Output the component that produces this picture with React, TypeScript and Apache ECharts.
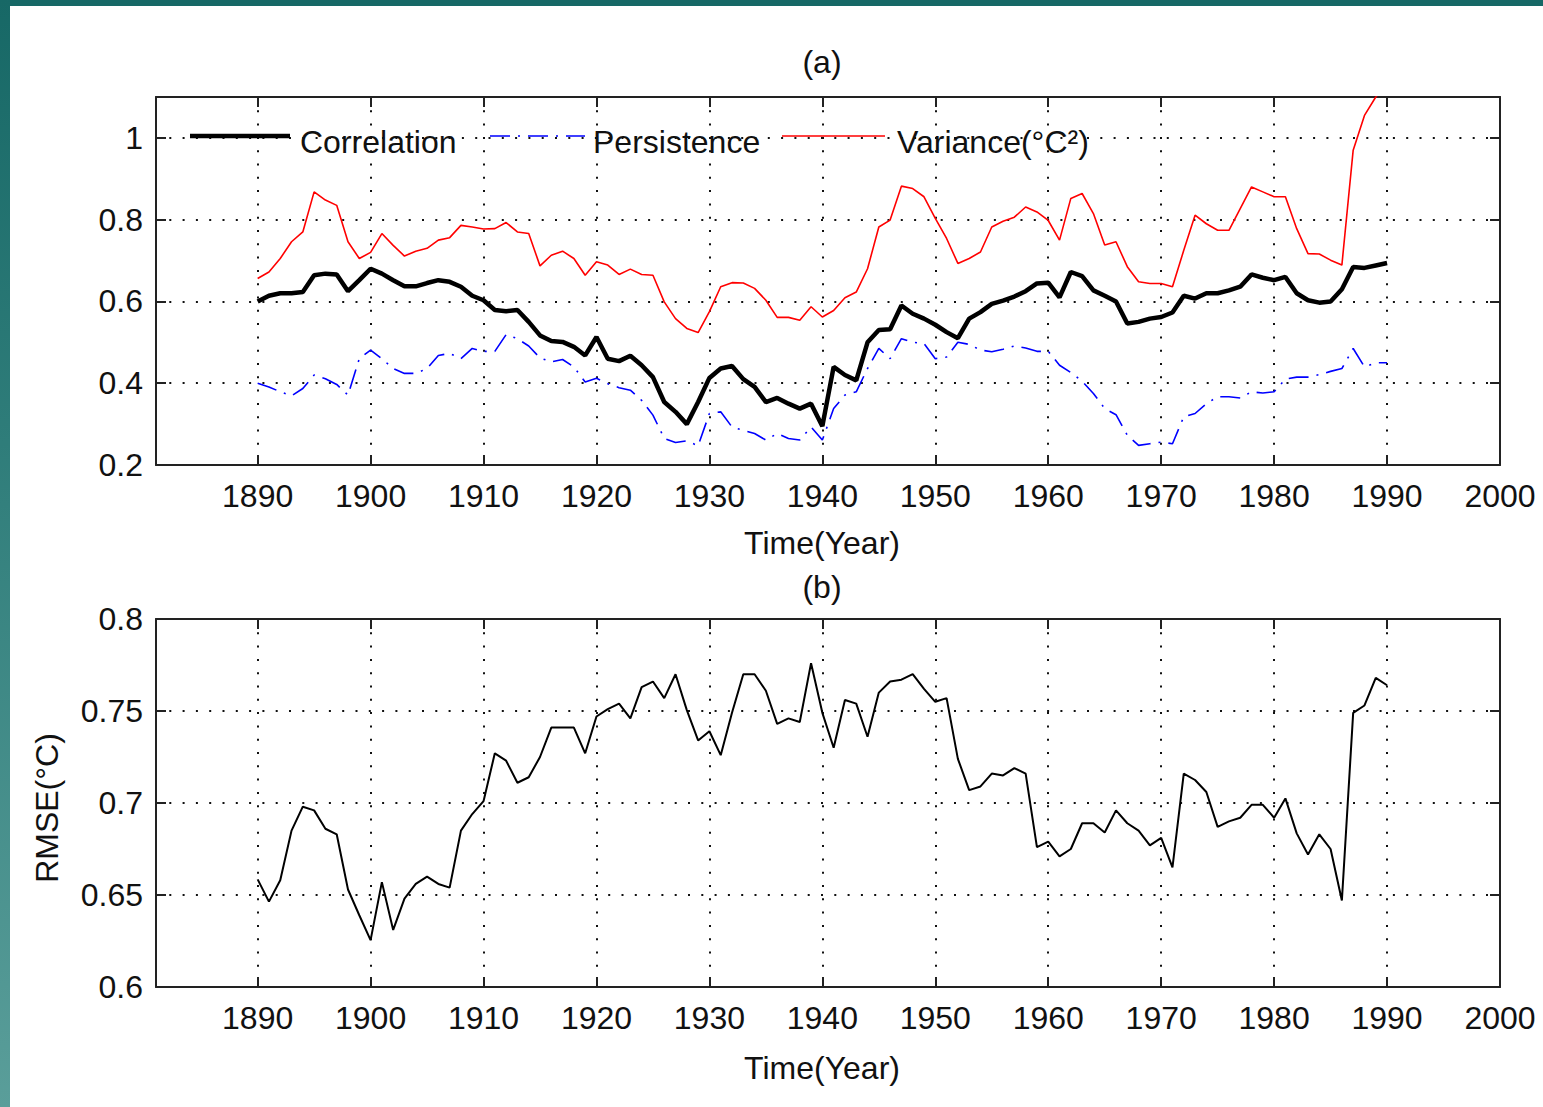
import React, { useEffect, useRef } from "react";
import * as echarts from "echarts";

const years: number[] = [];
for (let y = 1890; y <= 1990; y++) years.push(y);

const correlation = [
  0.600, 0.614, 0.620, 0.620, 0.623, 0.664, 0.668, 0.666, 0.625, 0.652,
  0.680, 0.668, 0.652, 0.637, 0.637, 0.645, 0.652, 0.648, 0.636, 0.614,
  0.603, 0.579, 0.576, 0.579, 0.550, 0.517, 0.503, 0.501, 0.489, 0.468,
  0.513, 0.460, 0.454, 0.467, 0.444, 0.415, 0.354, 0.330, 0.300, 0.354,
  0.413, 0.436, 0.442, 0.410, 0.391, 0.354, 0.364, 0.350, 0.338, 0.350,
  0.295, 0.440, 0.420, 0.407, 0.500, 0.530, 0.532, 0.590, 0.570, 0.558,
  0.543, 0.525, 0.510, 0.558, 0.574, 0.594, 0.602, 0.612, 0.625, 0.644,
  0.646, 0.610, 0.672, 0.662, 0.627, 0.614, 0.600, 0.546, 0.550, 0.558,
  0.562, 0.573, 0.614, 0.607, 0.620, 0.620, 0.627, 0.636, 0.666, 0.658,
  0.652, 0.660, 0.620, 0.603, 0.597, 0.600, 0.630, 0.684, 0.682, 0.688,
  0.694,
];

const persistence = [
  0.400, 0.391, 0.379, 0.369, 0.387, 0.420, 0.411, 0.397, 0.371, 0.460,
  0.481, 0.460, 0.436, 0.424, 0.424, 0.436, 0.468, 0.473, 0.460, 0.485,
  0.478, 0.478, 0.519, 0.509, 0.491, 0.462, 0.452, 0.458, 0.440, 0.403,
  0.412, 0.399, 0.389, 0.383, 0.358, 0.322, 0.265, 0.255, 0.259, 0.247,
  0.326, 0.330, 0.293, 0.285, 0.277, 0.261, 0.277, 0.265, 0.261, 0.293,
  0.261, 0.338, 0.371, 0.379, 0.436, 0.485, 0.460, 0.509, 0.500, 0.497,
  0.460, 0.464, 0.500, 0.495, 0.481, 0.477, 0.483, 0.491, 0.486, 0.478,
  0.478, 0.444, 0.426, 0.405, 0.375, 0.338, 0.323, 0.273, 0.248, 0.252,
  0.256, 0.252, 0.318, 0.326, 0.350, 0.367, 0.367, 0.364, 0.379, 0.376,
  0.379, 0.410, 0.415, 0.415, 0.421, 0.429, 0.436, 0.485, 0.440, 0.450,
  0.450,
];

const variance = [
  0.656, 0.672, 0.705, 0.746, 0.770, 0.868, 0.848, 0.835, 0.746, 0.705,
  0.720, 0.766, 0.737, 0.711, 0.723, 0.730, 0.750, 0.756, 0.786, 0.782,
  0.777, 0.778, 0.793, 0.770, 0.766, 0.687, 0.713, 0.723, 0.705, 0.664,
  0.697, 0.689, 0.666, 0.679, 0.666, 0.664, 0.599, 0.558, 0.534, 0.524,
  0.575, 0.636, 0.646, 0.645, 0.632, 0.603, 0.561, 0.561, 0.554, 0.587,
  0.562, 0.578, 0.609, 0.623, 0.680, 0.782, 0.799, 0.882, 0.876, 0.856,
  0.803, 0.754, 0.693, 0.705, 0.721, 0.782, 0.796, 0.806, 0.831, 0.819,
  0.798, 0.750, 0.852, 0.864, 0.815, 0.738, 0.746, 0.685, 0.648, 0.644,
  0.644, 0.636, 0.725, 0.811, 0.790, 0.774, 0.774, 0.827, 0.880, 0.868,
  0.856, 0.856, 0.778, 0.717, 0.716, 0.701, 0.689, 0.970, 1.055, 1.100,
  1.130,
];

const rmse = [
  0.6585, 0.6464, 0.658, 0.685, 0.698, 0.696, 0.686, 0.683, 0.653, 0.639,
  0.6255, 0.657, 0.631, 0.648, 0.656, 0.660, 0.656, 0.654, 0.685, 0.694,
  0.701, 0.727, 0.723, 0.711, 0.714, 0.725, 0.741, 0.741, 0.741, 0.727,
  0.747, 0.751, 0.754, 0.746, 0.763, 0.766, 0.757, 0.770, 0.7505, 0.734,
  0.739, 0.726, 0.749, 0.770, 0.770, 0.761, 0.743, 0.746, 0.744, 0.776,
  0.749, 0.730, 0.756, 0.754, 0.736, 0.760, 0.766, 0.767, 0.770, 0.762,
  0.755, 0.757, 0.724, 0.707, 0.709, 0.716, 0.715, 0.719, 0.716, 0.676,
  0.679, 0.671, 0.675, 0.689, 0.689, 0.684, 0.696, 0.689, 0.685, 0.677,
  0.681, 0.665, 0.716, 0.7125, 0.706, 0.687, 0.690, 0.692, 0.699, 0.699,
  0.692, 0.7025, 0.6835, 0.672, 0.683, 0.675, 0.647, 0.749, 0.753, 0.768,
  0.764,
];

const seriesNames = ["Correlation", "Persistence", "Variance(°C²)"];
const xTickLabels = ["1890", "1900", "1910", "1920", "1930", "1940", "1950", "1960", "1970", "1980", "1990", "2000"];

const FONT = "Liberation Sans";
const FRAME = "#222";
const FS = 32;

const STYLES = [
  { color: "#000000", width: 4.5, dash: null as number[] | null },
  { color: "#0000ff", width: 1.6, dash: [20, 8, 2, 8] },
  { color: "#ff0000", width: 1.6, dash: null as number[] | null },
];

function pairs(vals: number[]) {
  return years.map((y, i) => [y, vals[i]]);
}

function xAxes(gridIndex: number) {
  const common = {
    type: "value",
    gridIndex,
    min: 1881,
    max: 2000,
    minInterval: 10,
    maxInterval: 10,
    axisLine: { show: true, onZero: false, lineStyle: { color: FRAME, width: 2 } },
    axisTick: { show: true, inside: true, length: 10, lineStyle: { color: FRAME, width: 2 } },
  };
  return [
    {
      ...common,
      position: "bottom",
      axisLabel: {
        show: true,
        fontSize: FS,
        fontFamily: FONT,
        color: "#111",
        margin: 15,
        formatter: (v: number) => (xTickLabels.includes(String(v)) ? String(v) : ""),
      },
      splitLine: { show: true, lineStyle: { type: [2, 11.3], color: "#111", width: 2 } },
    },
    {
      ...common,
      position: "top",
      axisLabel: { show: false },
      splitLine: { show: false },
    },
  ];
}

function yAxes(gridIndex: number, min: number, max: number, interval: number, labelMax: number) {
  const common = {
    type: "value",
    gridIndex,
    min,
    max,
    interval,
    axisLine: { show: true, onZero: false, lineStyle: { color: FRAME, width: 2 } },
    axisTick: { show: true, inside: true, length: 10, lineStyle: { color: FRAME, width: 2 } },
  };
  return [
    {
      ...common,
      position: "left",
      axisLabel: {
        show: true,
        fontSize: FS,
        fontFamily: FONT,
        color: "#111",
        margin: 13,
        formatter: (v: number) => (v > labelMax + 1e-6 ? "" : String(+v.toFixed(2))),
      },
      splitLine: { show: true, lineStyle: { type: [2, 11.3], color: "#111", width: 2 } },
    },
    {
      ...common,
      position: "right",
      axisLabel: { show: false },
      splitLine: { show: false },
    },
  ];
}

export default function App() {
  const ref = useRef<HTMLDivElement>(null);

  useEffect(() => {
    if (!ref.current) return;
    const chart = echarts.init(ref.current, undefined, { renderer: "svg" });
    const txt = (text: string, x: number, y: number, align = "center", extra: any = {}) => ({
      type: "text",
      x,
      y,
      z: 100,
      ...extra,
      style: {
        text,
        font: `${FS}px "${FONT}"`,
        fill: "#111",
        textAlign: align,
        textVerticalAlign: "middle",
      },
    });
    const legendLine = (i: number, x1: number, x2: number) => ({
      type: "line",
      z: 100,
      shape: { x1, y1: 136, x2, y2: 136 },
      style: {
        stroke: STYLES[i].color,
        lineWidth: STYLES[i].width,
        lineDash: STYLES[i].dash || undefined,
      },
    });
    chart.setOption({
      animation: false,
      backgroundColor: "#ffffff",
      grid: [
        { left: 156, top: 97, width: 1344, height: 368 },
        { left: 156, top: 619, width: 1344, height: 368 },
      ],
      xAxis: [...xAxes(0), ...xAxes(1)],
      yAxis: [...yAxes(0, 0.2, 1.1, 0.2, 1.0), ...yAxes(1, 0.6, 0.8, 0.05, 0.8)],
      series: [
        {
          name: seriesNames[0],
          type: "line",
          xAxisIndex: 0,
          yAxisIndex: 0,
          data: pairs(correlation),
          symbol: "none",
          showSymbol: false,
          lineStyle: { color: STYLES[0].color, width: STYLES[0].width },
        },
        {
          name: seriesNames[1],
          type: "line",
          xAxisIndex: 0,
          yAxisIndex: 0,
          data: pairs(persistence),
          symbol: "none",
          showSymbol: false,
          lineStyle: { color: STYLES[1].color, width: STYLES[1].width, type: STYLES[1].dash },
        },
        {
          name: seriesNames[2],
          type: "line",
          xAxisIndex: 0,
          yAxisIndex: 0,
          data: pairs(variance),
          symbol: "none",
          showSymbol: false,
          clip: true,
          lineStyle: { color: STYLES[2].color, width: STYLES[2].width },
        },
        {
          name: "RMSE",
          type: "line",
          xAxisIndex: 2,
          yAxisIndex: 2,
          data: pairs(rmse),
          symbol: "none",
          showSymbol: false,
          lineStyle: { color: "#000", width: 2 },
        },
      ],
      graphic: [
        legendLine(0, 190, 290),
        txt(seriesNames[0], 300, 142, "left"),
        legendLine(1, 490, 585),
        txt(seriesNames[1], 593, 142, "left"),
        legendLine(2, 782, 885),
        txt(seriesNames[2], 897, 142, "left"),
        txt("(a)", 822, 62),
        txt("Time(Year)", 822, 543),
        txt("(b)", 822, 587),
        txt("Time(Year)", 822, 1068),
        txt("RMSE(°C)", 47, 808, "center", { rotation: Math.PI / 2 }),
      ],
    });
    return () => chart.dispose();
  }, []);

  return (
    <div style={{ position: "fixed", left: 0, top: 0, width: 1543, height: 1107, background: "#fff", overflow: "hidden" }}>
      <div ref={ref} style={{ position: "absolute", left: 0, top: 0, width: 1543, height: 1107 }} />
      <div style={{ position: "absolute", left: 0, top: 0, width: 1543, height: 6, background: "#166866" }} />
      <div
        style={{
          position: "absolute",
          left: 0,
          top: 0,
          width: 10,
          height: 1107,
          background: "linear-gradient(to bottom, #176866 0%, #2f7d7a 40%, #5a9e9a 100%)",
        }}
      />
    </div>
  );
}
